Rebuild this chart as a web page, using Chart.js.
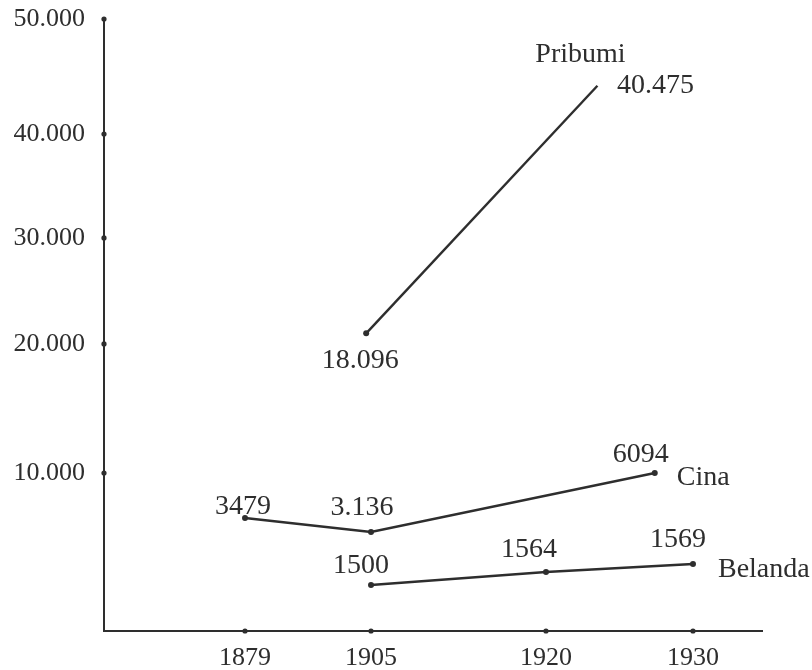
<!DOCTYPE html>
<html>
<head>
<meta charset="utf-8">
<script src="https://cdn.jsdelivr.net/npm/chart.js@4/dist/chart.umd.min.js"></script>
<style>
  html, body { margin: 0; padding: 0; background: #fff; }
  #wrap { width: 812px; height: 670px; }
</style>
</head>
<body>
<div id="wrap"><canvas id="chart"></canvas></div>
<script>
// tick labels
const yearTicks = [1879, 1905, 1920, 1930];
const populationTicks = [10000, 20000, 30000, 40000, 50000];

// series names
const seriesNames = ['Pribumi', 'Cina', 'Belanda'];

// where each point sits in the drawing (read against its axes; the drawing is not to scale)
const pribumiYears = [1904, 1923.5];
const pribumiLevels = [21000, 44200];
const cinaYears = [1879, 1905, 1927.4];
const cinaLevels = [7150, 6270, 10000];
const belandaYears = [1905, 1920, 1930];
const belandaLevels = [2910, 3730, 4240];

// numbers printed next to the points
const pribumiPrinted = ['18.096', '40.475'];
const cinaPrinted = ['3479', '3.136', '6094'];
const belandaPrinted = ['1500', '1564', '1569'];

const INK = '#2e2e2e';
const FONT = '"Liberation Serif", "Times New Roman", serif';

// the hand-drawn axes have uneven spacing between ticks, so map values piecewise
class HandDrawnScale extends Chart.LinearScale {
  getPixelForValue(value) {
    if (value === null || value === undefined || isNaN(value)) return NaN;
    const v = this.options.stopValues;
    const f = this.options.stopFractions;
    let i = 1;
    while (i < v.length - 1 && value > v[i]) i++;
    const t = (value - v[i - 1]) / (v[i] - v[i - 1]);
    return this.getPixelForDecimal(f[i - 1] + t * (f[i] - f[i - 1]));
  }
  getValueForPixel(pixel) {
    const d = this.getDecimalForPixel(pixel);
    const v = this.options.stopValues;
    const f = this.options.stopFractions;
    let i = 1;
    while (i < f.length - 1 && d > f[i]) i++;
    const t = (d - f[i - 1]) / (f[i] - f[i - 1]);
    return v[i - 1] + t * (v[i] - v[i - 1]);
  }
}
HandDrawnScale.id = 'handDrawn';
HandDrawnScale.defaults = {};
Chart.register(HandDrawnScale);

function points(xs, ys) {
  return xs.map((x, i) => ({ x: x, y: ys[i] }));
}

// numbers and names written next to the points
const pointTextPlugin = {
  id: 'pointText',
  afterDatasetsDraw(chart) {
    const ctx = chart.ctx;
    ctx.save();
    ctx.fillStyle = INK;
    ctx.font = '28px ' + FONT;
    ctx.textBaseline = 'alphabetic';
    chart.data.datasets.forEach((ds, di) => {
      const meta = chart.getDatasetMeta(di);
      meta.data.forEach((pt, i) => {
        const off = ds.textOffsets[i];
        ctx.textAlign = 'center';
        ctx.fillText(ds.printed[i], pt.x + off[0], pt.y + off[1]);
      });
      const np = meta.data[ds.nameAt];
      ctx.textAlign = ds.nameAlign;
      ctx.fillText(ds.label, np.x + ds.nameOffset[0], np.y + ds.nameOffset[1]);
    });
    ctx.restore();
  }
};

// small dots where the ticks meet the axes
const axisDotsPlugin = {
  id: 'axisDots',
  afterDraw(chart) {
    const ctx = chart.ctx;
    const xs = chart.scales.x;
    const ys = chart.scales.y;
    ctx.save();
    ctx.fillStyle = INK;
    xs.ticks.forEach(t => {
      ctx.beginPath();
      ctx.arc(xs.getPixelForValue(t.value), xs.top, 2.6, 0, Math.PI * 2);
      ctx.fill();
    });
    ys.ticks.forEach(t => {
      ctx.beginPath();
      ctx.arc(ys.right, ys.getPixelForValue(t.value), 2.6, 0, Math.PI * 2);
      ctx.fill();
    });
    ctx.restore();
  }
};

const lineStyle = {
  borderColor: INK,
  backgroundColor: INK,
  borderWidth: 2.4,
  pointBorderWidth: 0,
  pointBackgroundColor: INK,
  tension: 0,
  fill: false,
};

new Chart(document.getElementById('chart').getContext('2d'), {
  type: 'line',
  data: {
    datasets: [
      {
        ...lineStyle,
        label: seriesNames[0],
        data: points(pribumiYears, pribumiLevels),
        printed: pribumiPrinted,
        pointRadius: [3, 0],
        textOffsets: [[-6, 35], [58, 7]],
        nameAt: 1, nameOffset: [-17, -24], nameAlign: 'center',
      },
      {
        ...lineStyle,
        label: seriesNames[1],
        data: points(cinaYears, cinaLevels),
        printed: cinaPrinted,
        pointRadius: 3,
        textOffsets: [[-2, -4], [-9, -17], [-14, -11]],
        nameAt: 2, nameOffset: [22, 12], nameAlign: 'left',
      },
      {
        ...lineStyle,
        label: seriesNames[2],
        data: points(belandaYears, belandaLevels),
        printed: belandaPrinted,
        pointRadius: 3,
        textOffsets: [[-10, -12], [-17, -15], [-15, -17]],
        nameAt: 2, nameOffset: [25, 13], nameAlign: 'left',
      },
    ],
  },
  options: {
    responsive: true,
    maintainAspectRatio: false,
    animation: false,
    events: [],
    layout: { padding: { left: 0, top: 19, right: 50, bottom: 0 } },
    scales: {
      x: {
        type: 'handDrawn',
        min: 1850,
        max: 1935,
        stopValues: [1850, 1879, 1905, 1920, 1930, 1935],
        stopFractions: [0, 0.2143, 0.4058, 0.6717, 0.8951, 1],
        afterBuildTicks: (scale) => { scale.ticks = yearTicks.map(v => ({ value: v })); },
        afterFit: (scale) => {
          scale.height = 39;
          scale.paddingLeft = 0;
          scale.paddingRight = 0;
        },
        grid: { display: false, drawTicks: false },
        border: { display: true, color: INK, width: 2 },
        ticks: {
          autoSkip: false,
          maxRotation: 0,
          padding: 12,
          color: INK,
          font: { family: FONT, size: 26 },
          callback: (v) => String(v),
        },
      },
      y: {
        type: 'handDrawn',
        min: 0,
        max: 50000,
        stopValues: [0, 10000, 20000, 30000, 40000, 50000],
        stopFractions: [0, 0.2582, 0.469, 0.6422, 0.8121, 1],
        afterBuildTicks: (scale) => { scale.ticks = populationTicks.map(v => ({ value: v })); },
        afterFit: (scale) => {
          scale.width = 104;
          scale.paddingTop = 0;
          scale.paddingBottom = 0;
        },
        grid: { display: false, drawTicks: false },
        border: { display: true, color: INK, width: 2 },
        ticks: {
          padding: 19,
          color: INK,
          font: { family: FONT, size: 26 },
          callback: (v) => (v / 1000) + '.000',
        },
      },
    },
    plugins: {
      legend: { display: false },
      tooltip: { enabled: false },
    },
  },
  plugins: [pointTextPlugin, axisDotsPlugin],
});
</script>
</body>
</html>
